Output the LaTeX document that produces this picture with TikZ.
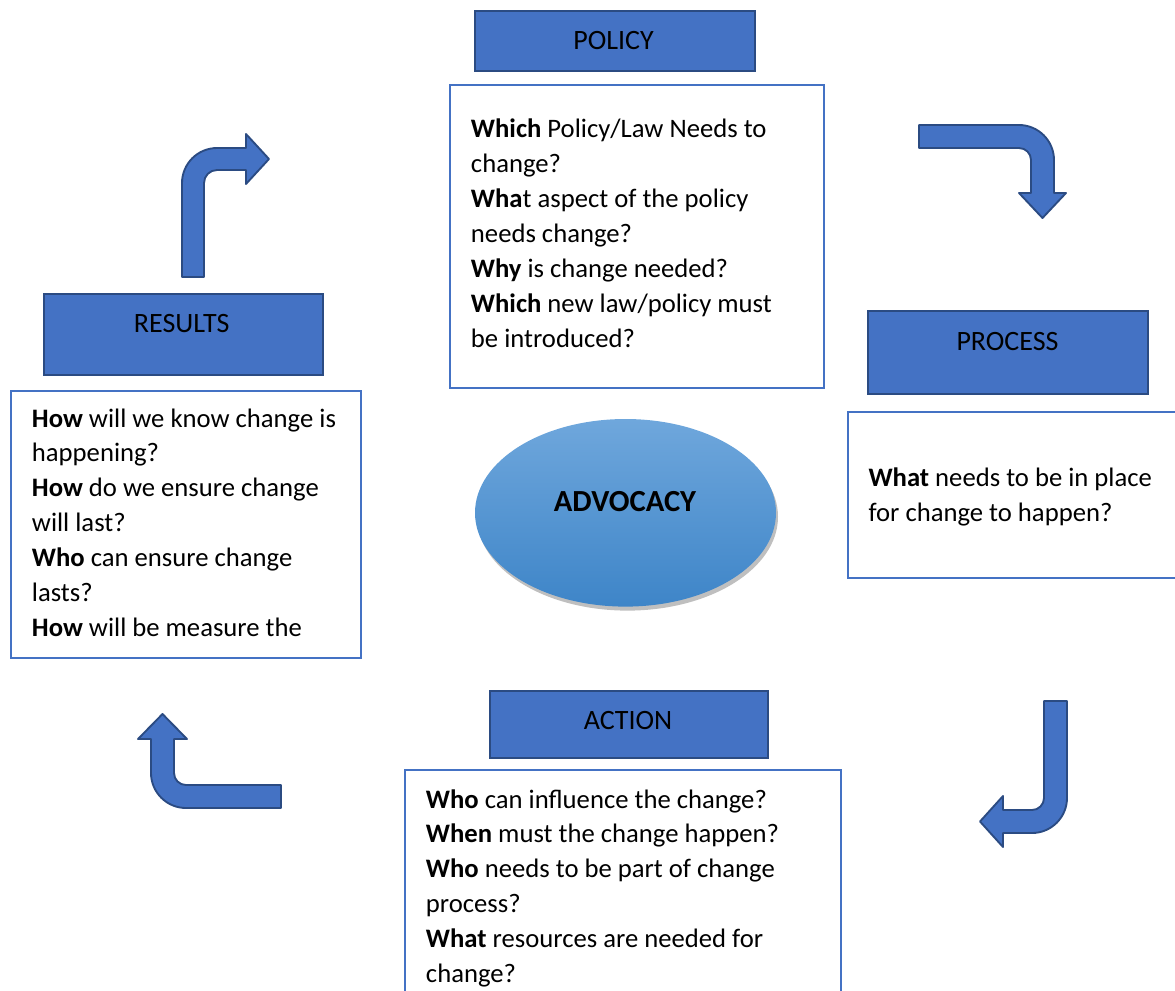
\documentclass[tikz,border=0pt]{standalone}
\usepackage{fontspec}
\setmainfont{Carlito}
\usetikzlibrary{shapes.geometric,shadows}
\definecolor{hdrfill}{HTML}{4472C4}
\definecolor{hdrline}{HTML}{2B4B82}
\definecolor{boxline}{HTML}{4472C4}
\definecolor{elltop}{HTML}{6FA7DC}
\definecolor{ellbot}{HTML}{3E85C8}
\newcommand{\qlines}[1]{\parbox[t]{400pt}{\fontsize{20}{26.2}\selectfont\raggedright #1}}
\begin{document}
\begin{tikzpicture}[x=0.75pt,y=-0.75pt,
  hdr/.style={draw=hdrline, fill=hdrfill, line width=1.5pt, inner sep=0pt, anchor=north west},
  hdrtext/.style={anchor=base, inner sep=0pt, font=\fontsize{21}{25}\selectfont},
  qbox/.style={draw=boxline, fill=white, line width=1.5pt, inner sep=0pt, anchor=north west},
  qtext/.style={anchor=base west, inner sep=0pt},
  bent/.style={draw=hdrline, fill=hdrfill, line width=1.4pt, line join=round}]
\useasboundingbox (0,0) rectangle (1175,990);
\clip (0,0) rectangle (1175,990);

% header boxes
\node[hdr, minimum width=210pt, minimum height=45pt] (polhdr) at (474,10) {};
\node[hdr, minimum width=209.5pt, minimum height=62.5pt] (prohdr) at (867.3,310) {};
\node[hdr, minimum width=209.7pt, minimum height=60.75pt] (reshdr) at (42.7,293.3) {};
\node[hdr, minimum width=208.5pt, minimum height=50.25pt] (acthdr) at (489,690) {};
\node[hdrtext] (poltitle) at (613.5,49.3) {POLICY};
\node[hdrtext] (protitle) at (1007.5,350.7) {PROCESS};
\node[hdrtext] (restitle) at (181.7,332.3) {RESULTS};
\node[hdrtext] (acttitle) at (628,729.5) {ACTION};

% question boxes
\node[qbox, minimum width=280.7pt, minimum height=227pt] (polbox) at (449,84) {};
\node[qbox, minimum width=253.5pt, minimum height=124.5pt] (probox) at (847,411) {};
\node[qbox, minimum width=262.5pt, minimum height=200.5pt] (resbox) at (10,390) {};
\node[qbox, minimum width=327pt, minimum height=172.5pt] (actbox) at (404,769) {};

\node[qtext] (poltext) at (470.7,137.7) {\qlines{\textbf{Which} Policy/Law Needs to\\
change?\\
\textbf{Wha}t aspect of the policy\\
needs change?\\
\textbf{Why} is change needed?\\
\textbf{Which} new law/policy must\\
be introduced?}};
\node[qtext] (protext) at (868.3,486.5) {\qlines{\textbf{What} needs to be in place\\
for change to happen?}};
\node[qtext] (restext) at (31.7,427) {\qlines{\textbf{How} will we know change is\\
happening?\\
\textbf{How} do we ensure change\\
will last?\\
\textbf{Who} can ensure change\\
lasts?\\
\textbf{How} will be measure the}};
\node[qtext] (acttext) at (425.7,808) {\qlines{\textbf{Who} can influence the change?\\
\textbf{When} must the change happen?\\
\textbf{Who} needs to be part of change\\
process?\\
\textbf{What} resources are needed for\\
change?}};

% central ellipse
\node[ellipse, minimum width=225.75pt, minimum height=140.7pt, inner sep=0pt,
  top color=elltop, bottom color=ellbot, draw=none,
  drop shadow={shadow xshift=1.5pt, shadow yshift=-3pt, opacity=0.25, fill=black}]
  (adv) at (625.5,512.8) {};
\node[anchor=base, inner sep=0pt, font=\fontsize{23}{28}\selectfont\bfseries] (advtext) at (625,511.7) {ADVOCACY};

% bent arrows
\draw[bent] (182,277) -- (182,183) .. controls (182,163.7) and (197.7,148) .. (217,148)
  -- (246,148) -- (246,134) -- (269,159) -- (246,184) -- (246,170) -- (217,170)
  .. controls (209.8,170) and (204,175.8) .. (204,183) -- (204,277) -- cycle;
\draw[bent] (919,125) -- (1019,125) .. controls (1038.3,125) and (1054,140.7) .. (1054,160)
  -- (1054,193) -- (1066,193) -- (1042.5,218) -- (1019,193) -- (1031,193) -- (1031,160)
  .. controls (1031,153.4) and (1025.6,148) .. (1019,148) -- (919,148) -- cycle;
\draw[bent] (1067,701) -- (1067,798) .. controls (1067,817.3) and (1051.3,833) .. (1032,833)
  -- (1003,833) -- (1003,847) -- (980,821.5) -- (1003,796) -- (1003,810) -- (1032,810)
  .. controls (1038.6,810) and (1044,804.6) .. (1044,798) -- (1044,701) -- cycle;
\draw[bent] (281,808) -- (186,808) .. controls (166.7,808) and (151,792.3) .. (151,773)
  -- (151,739) -- (138,739) -- (162.5,714) -- (187,739) -- (174,739) -- (174,773)
  .. controls (174,779.6) and (179.4,785) .. (186,785) -- (281,785) -- cycle;
\end{tikzpicture}
\end{document}
